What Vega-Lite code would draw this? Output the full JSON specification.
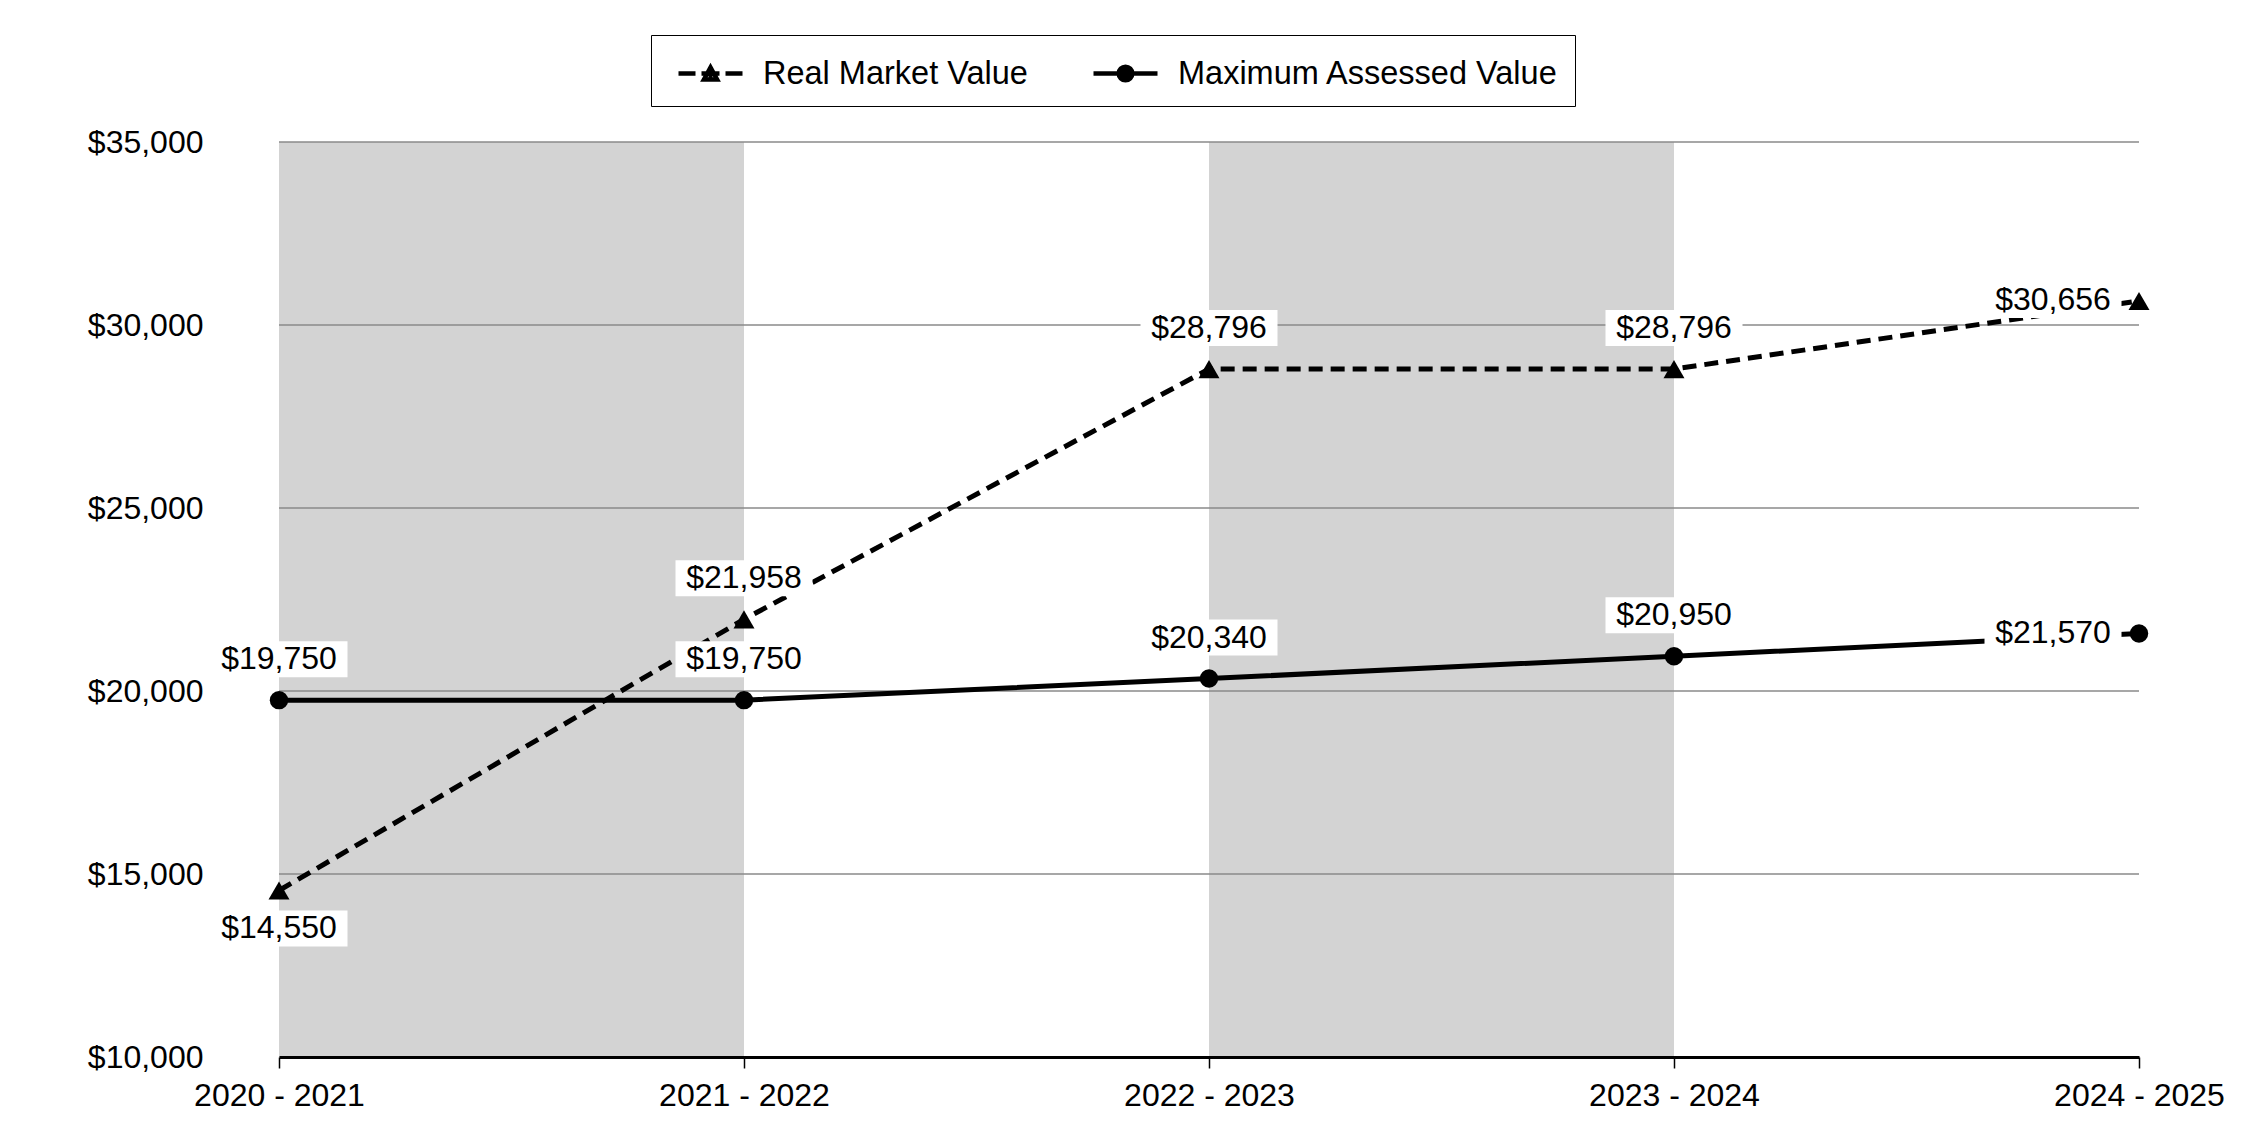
{
  "$schema": "https://vega.github.io/schema/vega-lite/v6.json",
  "autosize": {"type": "none"},
  "width": 1860,
  "height": 915,
  "padding": {"left": 279, "top": 142, "right": 111, "bottom": 83},
  "background": "white",
  "datasets": {
    "main": [
      {"year": "2020 - 2021", "series": "Real Market Value", "value": 14550},
      {"year": "2021 - 2022", "series": "Real Market Value", "value": 21958},
      {"year": "2022 - 2023", "series": "Real Market Value", "value": 28796},
      {"year": "2023 - 2024", "series": "Real Market Value", "value": 28796},
      {"year": "2024 - 2025", "series": "Real Market Value", "value": 30656},
      {"year": "2020 - 2021", "series": "Maximum Assessed Value", "value": 19750},
      {"year": "2021 - 2022", "series": "Maximum Assessed Value", "value": 19750},
      {"year": "2022 - 2023", "series": "Maximum Assessed Value", "value": 20340},
      {"year": "2023 - 2024", "series": "Maximum Assessed Value", "value": 20950},
      {"year": "2024 - 2025", "series": "Maximum Assessed Value", "value": 21570}
    ],
    "bands": [
      {"year": "2020 - 2021", "year2": "2021 - 2022"},
      {"year": "2022 - 2023", "year2": "2023 - 2024"}
    ],
    "grid": [
      {"value": 15000}, {"value": 20000}, {"value": 25000}, {"value": 30000}, {"value": 35000}
    ]
  },
  "layer": [
    {
      "data": {"name": "bands"},
      "mark": {"type": "rect", "fill": "#d3d3d3", "stroke": null},
      "encoding": {
        "x": {"field": "year", "type": "ordinal", "title": null,
              "scale": {"type": "point", "padding": 0, "domain": ["2020 - 2021", "2021 - 2022", "2022 - 2023", "2023 - 2024", "2024 - 2025"]}},
        "x2": {"field": "year2"}
      }
    },
    {
      "data": {"name": "grid"},
      "mark": {"type": "rule", "color": "#8a8a8a", "strokeWidth": 1.5},
      "encoding": {
        "y": {"field": "value", "type": "quantitative", "title": null,
              "scale": {"domain": [10000, 35000], "nice": false, "zero": false},
              "axis": {"values": [10000, 15000, 20000, 25000, 30000, 35000], "format": "$,.0f"}}
      }
    },
    {
      "data": {"name": "main"},
      "transform": [{"filter": "datum.series === 'Real Market Value'"}],
      "mark": {"type": "line", "color": "black", "strokeWidth": 5, "strokeDash": [14, 8]},
      "encoding": {
        "x": {"field": "year", "type": "ordinal", "title": null,
              "scale": {"type": "point", "padding": 0, "domain": ["2020 - 2021", "2021 - 2022", "2022 - 2023", "2023 - 2024", "2024 - 2025"]}},
        "y": {"field": "value", "type": "quantitative", "title": null,
              "scale": {"domain": [10000, 35000], "nice": false, "zero": false},
              "axis": {"values": [10000, 15000, 20000, 25000, 30000, 35000], "format": "$,.0f"}}
      }
    },
    {
      "data": {"name": "main"},
      "transform": [{"filter": "datum.series === 'Maximum Assessed Value'"}],
      "mark": {"type": "line", "color": "black", "strokeWidth": 5},
      "encoding": {
        "x": {"field": "year", "type": "ordinal", "title": null},
        "y": {"field": "value", "type": "quantitative", "title": null}
      }
    },
    {
      "data": {"name": "main"},
      "transform": [{"filter": "datum.year !== '2024 - 2025' && !(datum.year === '2020 - 2021' && datum.series === 'Real Market Value')"}],
      "mark": {"type": "rect", "width": 137, "height": 36, "yOffset": -41, "fill": "white", "stroke": null},
      "encoding": {
        "x": {"field": "year", "type": "ordinal", "title": null},
        "y": {"field": "value", "type": "quantitative", "title": null}
      }
    },
    {
      "data": {"name": "main"},
      "transform": [{"filter": "datum.year === '2020 - 2021' && datum.series === 'Real Market Value'"}],
      "mark": {"type": "rect", "width": 137, "height": 36, "yOffset": 38, "fill": "white", "stroke": null},
      "encoding": {
        "x": {"field": "year", "type": "ordinal", "title": null},
        "y": {"field": "value", "type": "quantitative", "title": null}
      }
    },
    {
      "data": {"name": "main"},
      "transform": [{"filter": "datum.year === '2024 - 2025'"}],
      "mark": {"type": "rect", "width": 137, "height": 36, "xOffset": -86, "yOffset": -1, "fill": "white", "stroke": null},
      "encoding": {
        "x": {"field": "year", "type": "ordinal", "title": null},
        "y": {"field": "value", "type": "quantitative", "title": null}
      }
    },
    {
      "data": {"name": "main"},
      "transform": [{"filter": "datum.year !== '2024 - 2025' && !(datum.year === '2020 - 2021' && datum.series === 'Real Market Value')"}],
      "mark": {"type": "text", "dy": -41, "baseline": "middle", "align": "center", "fontSize": 32, "font": "Liberation Sans", "color": "black"},
      "encoding": {
        "x": {"field": "year", "type": "ordinal", "title": null},
        "y": {"field": "value", "type": "quantitative", "title": null},
        "text": {"field": "value", "type": "quantitative", "format": "$,.0f"}
      }
    },
    {
      "data": {"name": "main"},
      "transform": [{"filter": "datum.year === '2020 - 2021' && datum.series === 'Real Market Value'"}],
      "mark": {"type": "text", "dy": 38, "baseline": "middle", "align": "center", "fontSize": 32, "font": "Liberation Sans", "color": "black"},
      "encoding": {
        "x": {"field": "year", "type": "ordinal", "title": null},
        "y": {"field": "value", "type": "quantitative", "title": null},
        "text": {"field": "value", "type": "quantitative", "format": "$,.0f"}
      }
    },
    {
      "data": {"name": "main"},
      "transform": [{"filter": "datum.year === '2024 - 2025'"}],
      "mark": {"type": "text", "dx": -86, "dy": -1, "baseline": "middle", "align": "center", "fontSize": 32, "font": "Liberation Sans", "color": "black"},
      "encoding": {
        "x": {"field": "year", "type": "ordinal", "title": null},
        "y": {"field": "value", "type": "quantitative", "title": null},
        "text": {"field": "value", "type": "quantitative", "format": "$,.0f"}
      }
    },
    {
      "data": {"name": "main"},
      "transform": [{"filter": "datum.series === 'Real Market Value'"}],
      "mark": {"type": "point", "filled": true, "color": "black", "opacity": 1, "size": 440, "shape": "triangle-up"},
      "encoding": {
        "x": {"field": "year", "type": "ordinal", "title": null},
        "y": {"field": "value", "type": "quantitative", "title": null}
      }
    },
    {
      "data": {"name": "main"},
      "transform": [{"filter": "datum.series === 'Maximum Assessed Value'"}],
      "mark": {"type": "point", "filled": true, "color": "black", "opacity": 1, "size": 340, "shape": "circle"},
      "encoding": {
        "x": {"field": "year", "type": "ordinal", "title": null},
        "y": {"field": "value", "type": "quantitative", "title": null}
      }
    },
    {
      "data": {"name": "main"},
      "mark": {"type": "point", "filled": false, "color": "black", "strokeWidth": 4.5, "opacity": 0, "size": 1600},
      "encoding": {
        "x": {"field": "year", "type": "ordinal", "title": null},
        "y": {"field": "value", "type": "quantitative", "title": null},
        "shape": {"field": "series", "type": "nominal",
                  "scale": {"domain": ["Real Market Value", "Maximum Assessed Value"],
                            "range": ["M-0.55,0H0.3M0.6,0H1.5M1.8,0H2.65M0.72,0.3L1.05,-0.3L1.38,0.3ZM0.95,0.17H1.15",
                                      "M-0.55,0H2.65M0.71,0A0.34,0.34,0,1,1,1.39,0A0.34,0.34,0,1,1,0.71,0ZM0.93,0A0.12,0.12,0,1,1,1.17,0A0.12,0.12,0,1,1,0.93,0Z"]},
                  "legend": {
                    "title": null,
                    "orient": "none",
                    "legendX": 372,
                    "legendY": -107,
                    "direction": "horizontal",
                    "columns": 2,
                    "padding": 16,
                    "columnPadding": 54,
                    "symbolSize": 1600,
                    "symbolOpacity": 1,
                    "symbolFillColor": "black",
                    "symbolStrokeColor": "black",
                    "symbolStrokeWidth": 4.5,
                    "labelOffset": 51,
                    "labelFontSize": 32.5,
                    "labelFont": "Liberation Sans",
                    "labelColor": "black",
                    "labelLimit": 1000,
                    "fillColor": "white",
                    "strokeColor": "black",
                    "encode": {
                      "legend": {"stroke": {"value": "black"}, "strokeWidth": {"value": 3.5}, "fill": {"value": "white"}},
                      "symbols": {"strokeWidth": {"value": 4.5}, "stroke": {"value": "black"}}
                    }
                  }}
      }
    }
  ],
  "config": {
    "view": {"stroke": null},
    "font": "Liberation Sans",
    "axisX": {
      "domain": true, "domainColor": "black", "domainWidth": 3,
      "ticks": true, "tickColor": "black", "tickWidth": 1.5, "tickSize": 11,
      "labelFontSize": 32, "labelFont": "Liberation Sans", "labelColor": "black",
      "labelPadding": 12, "labelAngle": 0, "grid": false, "labelOverlap": false
    },
    "axisY": {
      "domain": false, "ticks": false, "grid": false,
      "labelFontSize": 32, "labelFont": "Liberation Sans", "labelColor": "black",
      "labelPadding": 76, "labelOverlap": false
    }
  }
}
